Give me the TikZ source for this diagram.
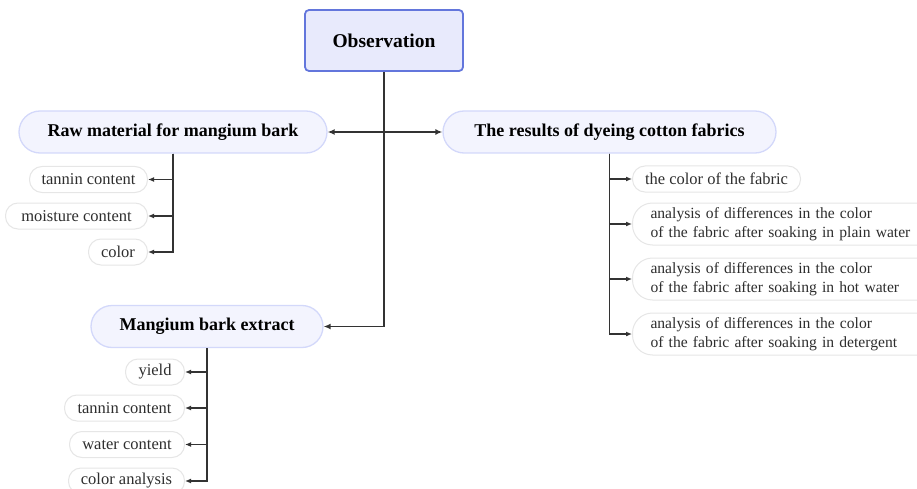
\documentclass[tikz,border=0pt]{standalone}
\usepackage{fontspec}
\setmainfont{Liberation Serif}
\usetikzlibrary{arrows.meta}
\definecolor{obsfill}{HTML}{E8EAFC}
\definecolor{obsdraw}{HTML}{6376DC}
\definecolor{hfill}{HTML}{F3F4FE}
\definecolor{hdraw}{HTML}{D3D8FA}
\definecolor{cdraw}{HTML}{E6E6E6}
\definecolor{ctext}{HTML}{2E2E2E}
\definecolor{lcol}{HTML}{333333}
\tikzset{
  obsbox/.style={draw=obsdraw, fill=obsfill, line width=1.8pt, rounded corners=4pt,
    minimum width=158pt, minimum height=61pt, font=\fontsize{19.5}{22}\selectfont\bfseries},
  headbox/.style={draw=hdraw, fill=hfill, line width=1.3pt, rounded corners=21pt,
    minimum height=42pt, font=\fontsize{18}{20}\selectfont\bfseries},
  childbox/.style={draw=cdraw, fill=white, line width=1pt, rounded corners=12.5pt,
    minimum height=26pt, text=ctext, font=\fontsize{16.5}{19}\selectfont},
  twobox/.style={draw=cdraw, fill=white, line width=1pt, rounded corners=20pt,
    minimum height=42pt, text=ctext, align=left, inner xsep=18pt, text width=280pt,
    anchor=west, font=\fontsize{15.6}{19}\selectfont},
  mainline/.style={draw=lcol, line width=1.9pt},
  subline/.style={draw=lcol, line width=1.3pt, -{Latex[length=6pt,width=5pt]}},
}
\begin{document}
\begin{tikzpicture}[x=1pt, y=-1pt]
\useasboundingbox (0,0) rectangle (917,489);
\node[obsbox] (obs) at (384,40.5) {Observation};
\node[headbox, minimum width=308pt] (raw) at (173,132) {Raw material for mangium bark};
\node[headbox, minimum width=333pt] (res) at (609.5,132) {The results of dyeing cotton fabrics};
\node[headbox, minimum width=232pt] (mbe) at (207,326.5) {Mangium bark extract};

% raw material children
\node[childbox, minimum width=118pt, anchor=east] (r1) at (148,179.5) {tannin content};
\node[childbox, minimum width=142pt, anchor=east] (r2) at (148,216) {moisture content};
\node[childbox, minimum width=59pt, anchor=east] (r3) at (148,252) {color};

% results children
\node[childbox, minimum width=168pt, anchor=west] (s1) at (632,179) {the color of the fabric};
\node[twobox] (s2) at (632,224) {analysis of differences in the color\\of the fabric after soaking in plain water};
\node[twobox] (s3) at (632,279) {analysis of differences in the color\\of the fabric after soaking in hot water};
\node[twobox] (s4) at (632,334) {analysis of differences in the color\\of the fabric after soaking in detergent};

% extract children
\node[childbox, minimum width=59pt, anchor=east] (m1) at (185,372) {yield};
\node[childbox, minimum width=120pt, anchor=east] (m2) at (185,408) {tannin content};
\node[childbox, minimum width=115pt, anchor=east] (m3) at (185,444.5) {water content};
\node[childbox, minimum width=116pt, anchor=east] (m4) at (185,481) {color analysis};

% main connectors
\draw[mainline, {Latex[length=7pt,width=6pt]}-{Latex[length=7pt,width=6pt]}] (raw.east) -- (res.west);
\draw[mainline, -{Latex[length=7pt,width=6pt]}] (obs.south) |- (mbe.east);

% sub connectors
\foreach \c in {r1,r2,r3} \draw[subline] (raw.south) |- (\c.east);
\foreach \c in {s1,s2,s3,s4} \draw[subline] (res.south) |- (\c.west);
\foreach \c in {m1,m2,m3,m4} \draw[subline] (mbe.south) |- (\c.east);
\end{tikzpicture}
\end{document}
